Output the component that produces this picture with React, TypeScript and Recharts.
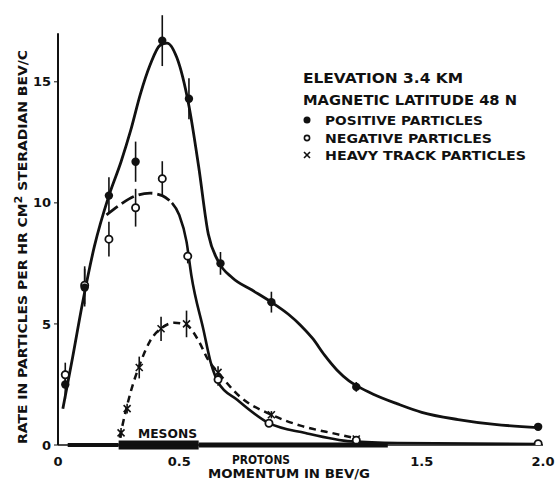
import React from "react";
import { ComposedChart, Line, Scatter, ErrorBar, XAxis, YAxis, ReferenceLine } from "recharts";

// measured points: [momentum, rate, error]
const positivePoints = [
  [0.03, 2.5, 0.6], [0.11, 6.5, 0.78], [0.21, 10.3, 0.76], [0.32, 11.7, 0.83], [0.43, 16.7, 1.05],
  [0.54, 14.3, 0.85], [0.67, 7.5, 0.47], [0.88, 5.9, 0.43], [1.23, 2.4, 0.2], [1.98, 0.75, 0],
];
const negativePoints = [
  [0.03, 2.9, 0.5], [0.11, 6.6, 0.78], [0.21, 8.5, 0.72], [0.32, 9.8, 0.78], [0.43, 11.0, 0.72],
  [0.535, 7.8, 0.3], [0.66, 2.7, 0.25], [0.87, 0.9, 0.15], [1.23, 0.2, 0], [1.98, 0.05, 0],
];
const heavyPoints = [
  [0.26, 0.5, 0.2], [0.285, 1.5, 0.2], [0.335, 3.2, 0.45], [0.425, 4.8, 0.5], [0.53, 5.0, 0.55],
  [0.66, 3.0, 0.25], [0.88, 1.25, 0.15], [1.23, 0.25, 0],
];

// hand-drawn fitted curves
const positiveCurve = [
  [0.02, 1.5], [0.06, 3.6], [0.1, 5.8], [0.15, 8.2], [0.21, 10.3], [0.26, 11.7], [0.3, 13.0],
  [0.34, 14.5], [0.38, 15.7], [0.42, 16.5], [0.45, 16.6], [0.49, 16.0], [0.54, 14.0], [0.58, 11.5],
  [0.62, 8.7], [0.66, 7.6], [0.72, 6.9], [0.8, 6.4], [0.88, 5.9], [0.95, 5.4], [1.0, 4.95],
  [1.05, 4.4], [1.1, 3.7], [1.15, 3.1], [1.2, 2.65], [1.24, 2.4], [1.3, 2.1], [1.4, 1.7],
  [1.5, 1.35], [1.65, 1.05], [1.8, 0.85], [1.98, 0.72],
];
const negativeCurveDashed = [
  [0.2, 9.5], [0.26, 9.95], [0.31, 10.25], [0.38, 10.4], [0.43, 10.3], [0.47, 10.0],
];
const negativeCurve = [
  [0.47, 10.0], [0.5, 9.5], [0.53, 8.4], [0.55, 7.0], [0.6, 4.75], [0.63, 3.4], [0.66, 2.6],
  [0.74, 1.86], [0.87, 0.9], [1.02, 0.5], [1.21, 0.15], [1.4, 0.08], [1.98, 0.04],
];
const heavyCurve = [
  [0.255, 0.3], [0.27, 1.0], [0.3, 2.2], [0.34, 3.4], [0.38, 4.3], [0.43, 4.85], [0.48, 5.05],
  [0.53, 4.95], [0.58, 4.3], [0.62, 3.5], [0.66, 3.0], [0.75, 2.0], [0.88, 1.25], [1.0, 0.8],
  [1.15, 0.45], [1.24, 0.25],
];

// momentum bands along the axis
const mesonThin = [0.04, 0.25];
const mesonThick = [0.25, 0.58];
const protonBand = [0.58, 1.36];

const xTicks = [0, 0.5, 1, 1.5, 2];
const xTickLabels = ["0", "0.5", "", "1.5", "2.0"];
const yTicks = [0, 5, 10, 15];
const yAxisTop = 17;

const pts = (arr: number[][]) => arr.map(([x, y, e]) => ({ x, y, e }));
const crv = (arr: number[][]) => arr.map(([x, y]) => ({ x, y }));

const INK = "#111";
const FONT = "'DejaVu Sans', sans-serif";

if (typeof document !== "undefined") {
  document.body.style.margin = "0";
  document.body.style.overflow = "hidden";
}

const Filled = (p: any) => <circle cx={p.cx} cy={p.cy} r={4.2} fill={INK} />;
const Open = (p: any) => <circle cx={p.cx} cy={p.cy} r={3.6} fill="#fff" stroke={INK} strokeWidth={1.8} />;
const Cross = (p: any) => (
  <g stroke={INK} strokeWidth={1.6}>
    <line x1={p.cx - 3.5} y1={p.cy - 3.5} x2={p.cx + 3.5} y2={p.cy + 3.5} />
    <line x1={p.cx - 3.5} y1={p.cy + 3.5} x2={p.cx + 3.5} y2={p.cy - 3.5} />
  </g>
);

const txt = { fontFamily: FONT, fontWeight: 700, fill: INK } as const;

export default function App() {
  return (
    <div style={{ position: "absolute", left: 0, top: 0, width: 558, height: 483, background: "#fff" }}>
      <ComposedChart width={558} height={483} margin={{ top: 14, right: 15, bottom: 0, left: 0 }}>
        <XAxis
          type="number"
          dataKey="x"
          domain={[0, 2]}
          ticks={xTicks}
          tickFormatter={(v: number) => xTickLabels[xTicks.indexOf(v)] ?? ""}
          height={38}
          tickLine={false}
          tickMargin={6}
          axisLine={{ stroke: INK, strokeWidth: 1.5 }}
          tick={{ ...txt, fontSize: 13 }}
        />
        <YAxis
          type="number"
          dataKey="y"
          domain={[0, 17.8]}
          allowDataOverflow
          ticks={yTicks}
          width={58}
          tickSize={4}
          tickMargin={3}
          tickLine={{ stroke: INK }}
          axisLine={false}
          tick={{ ...txt, fontSize: 13 }}
        />
        <ReferenceLine segment={[{ x: 0, y: 0 }, { x: 0, y: yAxisTop }]} stroke={INK} strokeWidth={2} ifOverflow="visible" />
        <ReferenceLine segment={[{ x: mesonThin[0], y: 0 }, { x: mesonThin[1], y: 0 }]} stroke={INK} strokeWidth={4} ifOverflow="visible" />
        <ReferenceLine segment={[{ x: mesonThick[0], y: 0 }, { x: mesonThick[1], y: 0 }]} stroke={INK} strokeWidth={9} ifOverflow="visible" />
        <ReferenceLine segment={[{ x: protonBand[0], y: 0 }, { x: protonBand[1], y: 0 }]} stroke={INK} strokeWidth={5} ifOverflow="visible" />

        <Line data={crv(positiveCurve)} dataKey="y" type="monotone" stroke={INK} strokeWidth={2.8} dot={false} isAnimationActive={false} />
        <Line data={crv(negativeCurveDashed)} dataKey="y" type="monotone" stroke={INK} strokeWidth={2.8} strokeDasharray="14 5" dot={false} isAnimationActive={false} />
        <Line data={crv(negativeCurve)} dataKey="y" type="monotone" stroke={INK} strokeWidth={2.6} dot={false} isAnimationActive={false} />
        <Line data={crv(heavyCurve)} dataKey="y" type="monotone" stroke={INK} strokeWidth={2.5} strokeDasharray="7 5" dot={false} isAnimationActive={false} />

        <Scatter data={pts(heavyPoints)} dataKey="y" shape={Cross} isAnimationActive={false}>
          <ErrorBar dataKey="e" direction="y" width={0} stroke={INK} strokeWidth={1.6} />
        </Scatter>
        <Scatter data={pts(negativePoints)} dataKey="y" shape={Open} isAnimationActive={false}>
          <ErrorBar dataKey="e" direction="y" width={0} stroke={INK} strokeWidth={1.6} />
        </Scatter>
        <Scatter data={pts(positivePoints)} dataKey="y" shape={Filled} isAnimationActive={false}>
          <ErrorBar dataKey="e" direction="y" width={0} stroke={INK} strokeWidth={1.6} />
        </Scatter>
      </ComposedChart>

      <svg width={558} height={483} style={{ position: "absolute", left: 0, top: 0, pointerEvents: "none" }}>
        <text x={303} y={83} fontSize={13.5} textLength={160} lengthAdjust="spacingAndGlyphs" {...txt}>ELEVATION 3.4 KM</text>
        <text x={303} y={105} fontSize={13.5} textLength={214} lengthAdjust="spacingAndGlyphs" {...txt}>MAGNETIC LATITUDE 48 N</text>
        <circle cx={307} cy={120} r={3.5} fill={INK} />
        <text x={325} y={125} fontSize={12} textLength={158} lengthAdjust="spacingAndGlyphs" {...txt}>POSITIVE PARTICLES</text>
        <circle cx={307} cy={138} r={2.6} fill="#fff" stroke={INK} strokeWidth={1.6} />
        <text x={325} y={143} fontSize={12} textLength={167} lengthAdjust="spacingAndGlyphs" {...txt}>NEGATIVE PARTICLES</text>
        <g stroke={INK} strokeWidth={1.6}>
          <line x1={304} y1={152} x2={310} y2={158} />
          <line x1={304} y1={158} x2={310} y2={152} />
        </g>
        <text x={325} y={160} fontSize={12} textLength={201} lengthAdjust="spacingAndGlyphs" {...txt}>HEAVY TRACK PARTICLES</text>

        <text x={138} y={438} fontSize={12.5} textLength={59} lengthAdjust="spacingAndGlyphs" {...txt}>MESONS</text>
        <text x={232} y={464} fontSize={11.5} textLength={58} lengthAdjust="spacingAndGlyphs" {...txt}>PROTONS</text>
        <text x={208} y={478} fontSize={11.5} textLength={162} lengthAdjust="spacingAndGlyphs" {...txt}>MOMENTUM IN BEV/G</text>

        <text transform="rotate(-90)" x={-444} y={27} fontSize={12.5} textLength={394} lengthAdjust="spacingAndGlyphs" {...txt}>
          RATE IN PARTICLES PER HR CM<tspan dy={-5} fontSize={10}>2</tspan><tspan dy={5}> STERADIAN BEV/C</tspan>
        </text>
      </svg>
    </div>
  );
}
